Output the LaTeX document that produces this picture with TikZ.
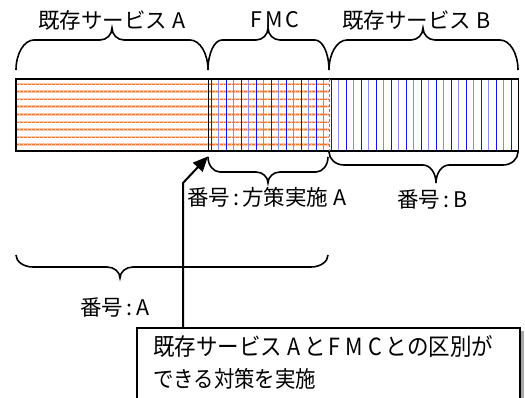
\documentclass[tikz,border=0pt]{standalone}
\usepackage{fontspec}
\setmainfont{Noto Sans CJK JP}
\usetikzlibrary{arrows.meta,calc}
\definecolor{hor}{HTML}{F07828}
\definecolor{horl}{HTML}{F8C8A8}
\definecolor{verd}{HTML}{1010F0}
\definecolor{verl}{HTML}{8888F8}
% #1 left x, #2 right x, #3 tip x, #4 end y, #5 middle y, #6 tip y, #7 end width, #8 tip width
\newcommand\mybrace[8]{\draw[brc]
  (#1,#4) .. controls (#1,#5+0.45*#4-0.45*#5) and (#1+0.45*#7,#5) .. (#1+#7,#5)
  -- (#3-#8,#5) .. controls (#3-0.45*#8,#5) and (#3,#5+0.45*#6-0.45*#5) .. (#3,#6)
  .. controls (#3,#5+0.45*#6-0.45*#5) and (#3+0.45*#8,#5) .. (#3+#8,#5)
  -- (#2-#7,#5) .. controls (#2-0.45*#7,#5) and (#2,#5+0.45*#4-0.45*#5) .. (#2,#4);}
\newcommand\gap[1]{\hspace{#1pt}}
\begin{document}
\begin{tikzpicture}[x=1pt,y=-1pt,
  lbl/.style={font=\fontsize{21.5}{24}\selectfont, inner sep=0pt},
  brc/.style={line width=1.6pt},
  seg/.style={inner sep=0pt, minimum height=72pt, anchor=north west}]
\useasboundingbox (0,0) rectangle (525,398);
\clip (0,0) rectangle (525,398);
% bar segments
\node[seg, minimum width=192pt] (segA) at (16,79) {};
\node[seg, minimum width=121pt] (segF) at (208,79) {};
\node[seg, minimum width=189pt] (segB) at (329,79) {};
% hatching
\begin{scope}
  \clip (segA.north west) rectangle (segF.south east);
  \foreach \y in {84,91.6,...,146} {
    \draw[horl, line width=2.6pt] (16,\y) -- (329,\y);
    \draw[hor, line width=0.8pt, dash pattern=on 3pt off 1pt] (16,\y) -- (329,\y);
  }
\end{scope}
\begin{scope}
  \clip (segF.north west) rectangle (segB.south east);
  \foreach \x in {211,226,...,518} \draw[verd, line width=1pt] (\x,79) -- (\x,151);
  \foreach \x in {218.5,233.5,...,518} \draw[verl, line width=1.3pt] (\x,79) -- (\x,151);
\end{scope}
\draw[line width=1.8pt] (segA.north west) rectangle (segB.south east);
\draw[line width=1.8pt] (segA.north east) -- (segA.south east);
\draw[gray, line width=0.8pt, dash pattern=on 3pt off 2pt] (segF.north east) -- (segF.south east);
% top braces
\mybrace{16}{208}{112}{70}{40}{28}{18}{12}
\mybrace{208}{329}{268}{70}{40}{28}{14}{12}
\mybrace{329}{518}{423}{70}{40}{28}{18}{12}
% lower braces
\mybrace{208}{328}{268}{157}{172}{183}{12}{12}
\mybrace{329}{518}{436}{152}{165}{183}{15}{13}
\mybrace{16}{328}{120}{255}{267}{278}{17}{13}
% labels
\node[lbl, anchor=west] (tA) at (38,20) {既存サービス\gap{5}A};
\node[lbl, anchor=west] (tF) at (250,20) {F\gap{3}M\gap{3}C};
\node[lbl, anchor=west] (tB) at (342,20) {既存サービス\gap{5}B};
\node[lbl, anchor=west] (nF) at (187,197) {番号\gap{3}:\gap{3}方策実施\gap{5}A};
\node[lbl, anchor=west] (nB) at (397,199) {番号\gap{3}:\gap{4}B};
\node[lbl, anchor=west] (nA) at (80,307) {番号\gap{3}:\gap{4}A};
% box
\fill[gray!70] (140,331) rectangle (524,420);
\node[draw, line width=1.5pt, fill=white, inner sep=0pt, minimum width=383pt, minimum height=90pt, anchor=north west] (box) at (136,327) {};
\node[anchor=north west, align=left, inner sep=0pt, font=\fontsize{21.5}{32}\selectfont] (boxtext) at (153,335)
  {\scalebox{1}[1.1]{既存サービス\gap{5}A\gap{4}と\gap{3}F\gap{5}M\gap{5}C\gap{4}との区別が}\\\scalebox{0.95}[1.05]{できる対策を実施}};
% arrow
\coordinate (bend) at (183,183);
\coordinate (tip) at ($(segF.south west)+(0,5)$);
\draw[line width=2pt, -{Triangle[length=15pt,width=13pt]}] ($(box.north west)+(47,0)$) -- (bend) -- (tip);
\end{tikzpicture}
\end{document}
